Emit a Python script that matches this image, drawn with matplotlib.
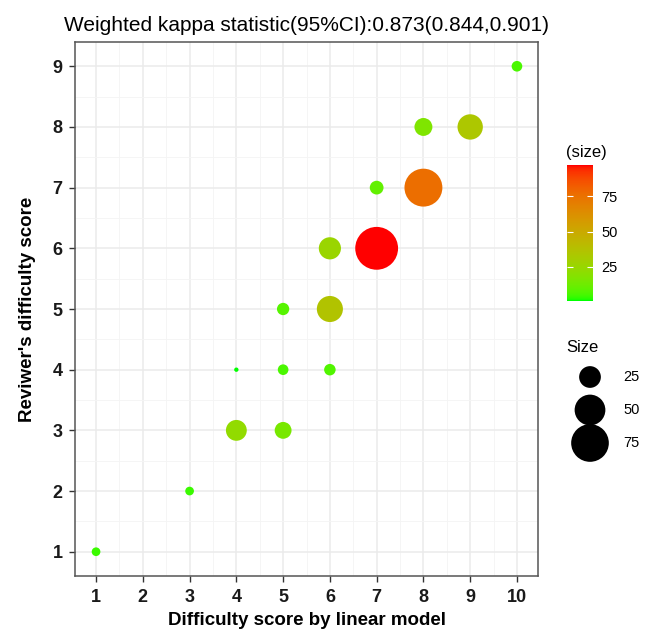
import matplotlib
matplotlib.use("Agg")
import matplotlib.pyplot as plt
import numpy as np
from matplotlib.colors import ListedColormap, Normalize
from matplotlib.colorbar import ColorbarBase

plt.rcParams['font.family'] = ['Liberation Sans', 'DejaVu Sans']

# bubble data: linear model score, reviewer score, count
model_score = [1, 3, 4, 5, 4, 5, 6, 5, 6, 6, 7, 7, 8, 8, 9, 10]
reviewer_score = [1, 2, 3, 3, 4, 4, 4, 5, 5, 6, 6, 7, 7, 8, 8, 9]
counts = [4, 4, 23, 15, 1, 6, 7, 8, 36, 26, 97, 10, 76, 17, 34, 6]

size_breaks = [25, 50, 75]
title = "Weighted kappa statistic(95%CI):0.873(0.844,0.901)"

SIZE_SCALE = 9.8  # points^2 per count
W, H = 648, 637


def srgb_to_lab(rgb):
    rgb = np.asarray(rgb, float)
    lin = np.where(rgb <= 0.04045, rgb / 12.92, ((rgb + 0.055) / 1.055) ** 2.4)
    M = np.array([[0.4124, 0.3576, 0.1805],
                  [0.2126, 0.7152, 0.0722],
                  [0.0193, 0.1192, 0.9505]])
    xyz = M @ lin / np.array([0.95047, 1.0, 1.08883])
    f = np.where(xyz > 0.008856, np.cbrt(xyz), 7.787 * xyz + 16 / 116)
    return np.array([116 * f[1] - 16, 500 * (f[0] - f[1]), 200 * (f[1] - f[2])])


def lab_to_srgb(lab):
    L, a, b = lab
    fy = (L + 16) / 116
    fx = fy + a / 500
    fz = fy - b / 200
    f = np.array([fx, fy, fz])
    xyz = np.where(f ** 3 > 0.008856, f ** 3, (f - 16 / 116) / 7.787)
    xyz = xyz * np.array([0.95047, 1.0, 1.08883])
    Minv = np.array([[3.2406, -1.5372, -0.4986],
                     [-0.9689, 1.8758, 0.0415],
                     [0.0557, -0.2040, 1.0570]])
    lin = Minv @ xyz
    lin = np.clip(lin, 0, 1)
    rgb = np.where(lin <= 0.0031308, 12.92 * lin, 1.055 * lin ** (1 / 2.4) - 0.055)
    return np.clip(rgb, 0, 1)


# green -> red gradient interpolated in Lab, like ggplot's scale_colour_gradient
lo = srgb_to_lab([0, 1, 0])
hi = srgb_to_lab([1, 0, 0])
cmap = ListedColormap([lab_to_srgb(lo + (hi - lo) * t) for t in np.linspace(0, 1, 256)])
norm = Normalize(vmin=min(counts), vmax=max(counts))

fig = plt.figure(figsize=(W / 100, H / 100), dpi=100)
ax = fig.add_axes([75 / W, 1 - 576 / H, 463 / W, 534 / H])

ax.scatter(model_score, reviewer_score, s=np.array(counts) * SIZE_SCALE,
           c=counts, cmap=cmap, norm=norm, linewidths=0, zorder=3)

ax.set_xlim(0.55, 10.45)
ax.set_ylim(0.6, 9.4)
ax.set_xticks(range(1, 11))
ax.set_yticks(range(1, 10))
ax.set_xticks(np.arange(1.5, 10.5, 1), minor=True)
ax.set_yticks(np.arange(1.5, 9.5, 1), minor=True)
ax.grid(True, which='major', color='#EBEBEB', linewidth=1.1, zorder=0)
ax.grid(True, which='minor', color='#F4F4F4', linewidth=0.6, zorder=0)
ax.set_axisbelow(True)
ax.tick_params(which='minor', length=0)
ax.tick_params(which='major', length=4, width=1, color='#333333',
               labelsize=13, pad=5)
for lab in ax.get_xticklabels() + ax.get_yticklabels():
    lab.set_fontweight('bold')
    lab.set_color('#1a1a1a')
for sp in ax.spines.values():
    sp.set_color('#555555')
    sp.set_linewidth(1.1)

ax.set_xlabel("Difficulty score by linear model", fontsize=13.5, fontweight='bold', labelpad=5)
ax.set_ylabel("Reviwer's difficulty score", fontsize=13.5, fontweight='bold', labelpad=12)
ax.set_title(title, fontsize=15, pad=8)

# colour bar
cax = fig.add_axes([567 / W, 1 - 301 / H, 26 / W, 136 / H])
cb = ColorbarBase(cax, cmap=cmap, norm=norm, orientation='vertical')
cb.outline.set_visible(False)
cb.set_ticks(size_breaks)
cax.tick_params(left=True, right=True, labelleft=False, labelright=True,
                direction='in', length=4, color='white', labelsize=10.5, pad=6)
fig.text(566 / W, 1 - 152 / H, "(size)", fontsize=12, va='center', ha='left')

# size legend, one row per break
lax = fig.add_axes([570 / W, 1 - 459.5 / H, 75 / W, 99 / H])
lax.set_xlim(0, 75)
lax.set_ylim(len(size_breaks) - 0.5, -0.5)
rows = np.arange(len(size_breaks))
lax.scatter(np.full(len(rows), 20), rows, s=np.array(size_breaks) * SIZE_SCALE,
            color='black', linewidths=0, clip_on=False)
for r, v in zip(rows, size_breaks):
    lax.text(53, r, str(v), fontsize=10.5, va='center', ha='left')
lax.axis('off')
fig.text(566 / W, 1 - 347 / H, "Size", fontsize=12, va='center', ha='left')

fig.savefig("out.png", dpi=100)
